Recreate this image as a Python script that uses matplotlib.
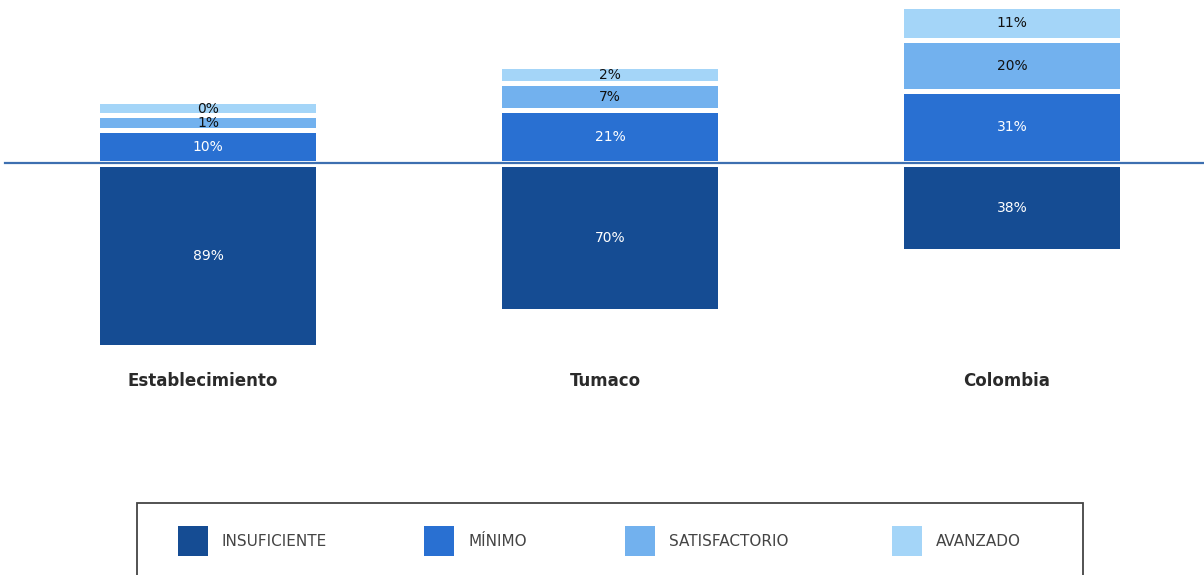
import matplotlib
matplotlib.use("Agg")
import matplotlib.pyplot as plt
from matplotlib.patches import Rectangle

categories = ['Establecimiento', 'Tumaco', 'Colombia']
insuficiente = [89, 70, 38]
minimo = [10, 21, 31]
satisfactorio = [1, 7, 20]
avanzado = [0, 2, 11]
levels = ['INSUFICIENTE', 'MÍNIMO', 'SATISFACTORIO', 'AVANZADO']
colors = ['#154C93', '#2970D2', '#72B1EE', '#A4D5F8']
text_colors = ['white', 'white', '#111111', '#111111']

W, H = 1204, 575
fig = plt.figure(figsize=(W / 100, H / 100), dpi=100)

# axes spans pixel rows 0..400 from top
ax_top_px, ax_bot_px = 0, 400
ax = fig.add_axes([0, 1 - ax_bot_px / H, 1, (ax_bot_px - ax_top_px) / H])
pxu = 1.88          # pixels per unit
base_px = 163       # baseline row
ax.set_ylim(-(ax_bot_px - base_px) / pxu, (base_px - ax_top_px) / pxu)
xpx = 402.0
ax.set_xlim(-208 / xpx, (W - 208) / xpx)
ax.axis('off')

pad = 4.5           # minimum visible height of a segment
gap = 5 / pxu       # white separation between segments
width = 216 / xpx

ax.axhline(0, xmin=5 / W, xmax=1, color='#3D6FB0', lw=1.6, zorder=1)

ups = [minimo, satisfactorio, avanzado]
for i, cat in enumerate(categories):
    # downward: insuficiente
    v = insuficiente[i]
    h = v + pad + 1.3
    bottom = -gap / 2 - 0.6
    ax.bar(i, -h, width=width, bottom=bottom, color=colors[0], zorder=2,
           edgecolor='none')
    ax.text(i, bottom - h / 2, f'{v}%', ha='center', va='center',
            color=text_colors[0], fontsize=10, zorder=3)
    # upward
    y = gap / 2
    for k, series in enumerate(ups):
        v = series[i]
        h = v + pad
        ax.bar(i, h, width=width, bottom=y, color=colors[k + 1], zorder=2,
               edgecolor='none')
        ax.text(i, y + h / 2, f'{v}%', ha='center', va='center',
                color=text_colors[k + 1], fontsize=10, zorder=3)
        y += h + gap
    ax.text(i - 5 / xpx, -(381 - base_px) / pxu, cat, ha='center', va='center',
            fontsize=12, fontweight='bold', color='#2a2a2a')

# legend box
def fx(px):
    return px / W

def fy(py):
    return 1 - py / H

fig.add_artist(Rectangle((fx(137), fy(590)), fx(1083) - fx(137), fy(503) - fy(590),
                         transform=fig.transFigure, facecolor='white',
                         edgecolor='#444444', lw=1.3))
patch_x = [178, 424, 625, 892]
for lab, c, px in zip(levels, colors, patch_x):
    fig.add_artist(Rectangle((fx(px), fy(556)), fx(30), 30 / H,
                             transform=fig.transFigure, facecolor=c,
                             edgecolor='none'))
    fig.text(fx(px + 44), fy(541), lab, ha='left', va='center',
             fontsize=11, color='#444444')

fig.savefig('out.png', dpi=100)
